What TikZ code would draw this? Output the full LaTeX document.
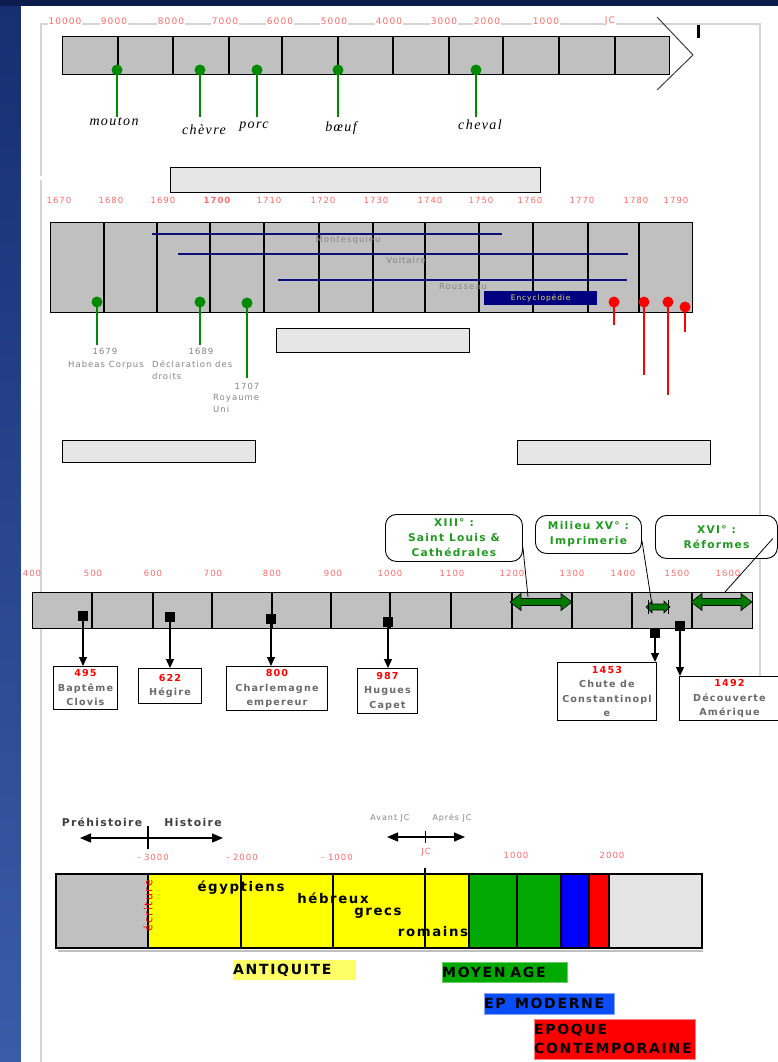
\documentclass[tikz,border=0pt]{standalone}
\usepackage{fontspec}
\setmainfont[LetterSpace=12]{DejaVu Sans}
\newfontfamily\animalfont[LetterSpace=10]{Liberation Serif}
\usetikzlibrary{arrows.meta}
\definecolor{bgtop}{HTML}{162E72}
\definecolor{bgbot}{HTML}{3A5CA8}
\definecolor{topnavy}{HTML}{0C1C4C}
\definecolor{cellgray}{HTML}{C0C0C0}
\definecolor{lightbox}{HTML}{E6E6E6}
\definecolor{dotgreen}{HTML}{008A00}
\definecolor{lblred}{HTML}{FF6A6A}
\definecolor{lblgray}{HTML}{858585}
\definecolor{evgray}{HTML}{6A6A6A}
\definecolor{linenavy}{HTML}{10107A}
\definecolor{framegray}{HTML}{D4D4D4}
\definecolor{encnavy}{HTML}{000080}
\definecolor{encyellow}{HTML}{E8E070}
\definecolor{arrowgreen}{HTML}{007A00}
\definecolor{calgreen}{HTML}{1E9A1E}
\definecolor{barYellow}{HTML}{FFFF00}
\definecolor{barGreen}{HTML}{00A800}
\definecolor{barBlue}{HTML}{0000FF}
\definecolor{barRed}{HTML}{FF0000}
\definecolor{barLight}{HTML}{E4E4E4}
\definecolor{perYellow}{HTML}{FFFF66}
\definecolor{perGreen}{HTML}{00AA00}
\definecolor{perBlue}{HTML}{0A4CF5}
\tikzset{
  frameline/.style={draw=framegray, line width=1.5pt},
  yr/.style={text=lblred, font=\fontsize{9}{10}\selectfont, inner sep=1pt},
  yrw/.style={yr, fill=white},
  yrs/.style={yr, font=\fontsize{8.5}{10}\selectfont},
  yrsb/.style={yr, font=\bfseries\fontsize{8.5}{10}\selectfont},
  barbox/.style={draw=black, line width=1.4pt, fill=cellgray, anchor=north west, inner sep=0pt},
  divline/.style={draw=black, line width=1.2pt},
  gdot/.style={circle, fill=dotgreen, minimum size=11pt, inner sep=0pt},
  rdot/.style={circle, fill=red, minimum size=11pt, inner sep=0pt},
  gline/.style={draw=dotgreen, line width=1.3pt},
  rline/.style={draw=red, line width=1.3pt},
  animal/.style={font=\animalfont\itshape\fontsize{14}{15}\selectfont, inner sep=0pt},
  lbox/.style={draw=black, line width=1.2pt, fill=lightbox, anchor=north west, inner sep=0pt},
  grayt/.style={text=lblgray, font=\fontsize{8.5}{12}\selectfont, inner sep=0pt},
  philo/.style={draw=linenavy, line width=1.3pt},
  evbox/.style={draw=black, line width=0.9pt, fill=white, anchor=north west, inner sep=0pt,
    align=center, text=evgray, font=\bfseries\fontsize{9.6}{14.5}\selectfont},
  sqnode/.style={fill=black, minimum size=10pt, inner sep=0pt},
  evarrow/.style={draw=black, line width=1.1pt, -{Triangle[width=8pt,length=9pt]}},
  callout/.style={draw=black, line width=0.9pt, rounded corners=11pt, fill=white, anchor=north west,
    inner sep=0pt, align=center, text=calgreen, font=\bfseries\fontsize{10.6}{15}\selectfont},
  pointer/.style={draw=black, line width=0.8pt},
  bigt/.style={text=black!75, font=\bfseries\fontsize{10.8}{12}\selectfont, inner sep=0pt},
  smallg/.style={text=lblgray, font=\fontsize{8}{9}\selectfont, inner sep=0pt},
  dblarrow/.style={draw=black, line width=1.2pt, {Triangle[width=9pt,length=11pt]}-{Triangle[width=9pt,length=11pt]}},
  people/.style={text=black, font=\bfseries\fontsize{13.3}{15}\selectfont, inner sep=0pt},
  period/.style={anchor=north west, inner sep=0pt, align=left, text=black,
    font=\bfseries\fontsize{14}{19}\selectfont},
}
\newcommand\greenDA[6]{%
  \filldraw[fill=arrowgreen, draw=black, line width=0.6pt]
    (#1,#3) -- (#1+#6,#3-#4) -- (#1+#6,#3-#5) -- (#2-#6,#3-#5) -- (#2-#6,#3-#4) -- (#2,#3)
    -- (#2-#6,#3+#4) -- (#2-#6,#3+#5) -- (#1+#6,#3+#5) -- (#1+#6,#3+#4) -- cycle;}
\begin{document}
\begin{tikzpicture}[x=1pt,y=-1pt]
\useasboundingbox (0,0) rectangle (778,1062);
% background
\shade[top color=bgtop, bottom color=bgbot] (0,0) rectangle (21,1062);
\fill[topnavy] (0,0) rectangle (778,6);
\fill[white] (21,6) rectangle (778,1062);
% frame
\draw[frameline] (41,1062) -- (41,180);
\draw[frameline] (41,176) -- (41,24) -- (760,24) -- (760,676);
% ---------- top timeline
\foreach \x/\t [count=\i] in {65/10000, 114/9000, 171/8000, 225/7000, 280/6000, 334/5000, 389/4000, 444/3000, 487/2000, 546/1000, 610/JC}
  \node[yrw] (top\i) at (\x,21) {\t};
\node[barbox, minimum width=607pt, minimum height=38pt] (bar1) at (62,36) {};
\foreach \x in {118,173,229,282,338,393,449,503,559,615}
  \draw[divline] (\x,36) -- (\x,74);
\draw[draw=black!75, line width=1pt] (657,17) -- (693,55) -- (657,90);
\draw[line width=3pt] (698,25) -- (698,38);
\foreach \n/\x/\lx/\ly/\t in {a/117/114/122/mouton, b/200/204/130/chèvre, c/257/254/127/porc, d/338/341/128/bœuf, e/476/480/125/cheval}{
  \node[gdot] (dot\n) at (\x,70) {};
  \coordinate (end\n) at (\x,117);
  \draw[gline] (dot\n.center) -- (end\n);
  \node[animal] (lab\n) at (\lx,\ly) {\t};
}
\node[lbox, minimum width=370pt, minimum height=25pt] (boxA) at (170,167) {};
% ---------- 18th century timeline
\foreach \x/\t [count=\i] in {59/1670,111/1680,163/1690,269/1710,323/1720,376/1730,430/1740,481/1750,530/1760,582/1770,636/1780,676/1790}
  \node[yrs] (yr\i) at (\x,200) {\t};
\node[yrsb] (yr1700) at (217,200) {1700};
\node[barbox, minimum width=642pt, minimum height=90pt] (bar2) at (50,222) {};
\foreach \x in {104,157,210,264,319,373,425,479,533,588,639}
  \draw[divline] (\x,222) -- (\x,312);
\draw[philo] (152,234) -- (502,234);
\draw[philo] (178,254) -- (628,254);
\draw[philo] (278,280) -- (627,280);
\node[grayt] (montesquieu) at (348,240) {Montesquieu};
\node[grayt] (voltaire) at (406,260) {Voltaire};
\node[grayt] (rousseau) at (463,286) {Rousseau};
\node[fill=encnavy, minimum width=113pt, minimum height=14pt, anchor=north west, inner sep=0pt,
  text=encyellow, font=\fontsize{7.5}{8}\selectfont] (ency) at (484,291) {Encyclopédie};
\foreach \n/\x/\y/\ey in {f/97/302/345, g/200/302/345, h/247/303/378}{
  \node[gdot] (dot\n) at (\x,\y) {};
  \coordinate (end\n) at (\x,\ey);
  \draw[gline] (dot\n.center) -- (end\n);
}
\node[grayt] (y1679) at (105,351) {1679};
\node[grayt] (habeas) at (106,365) {Habeas Corpus};
\node[grayt] (y1689) at (201,351) {1689};
\node[grayt, anchor=north west, align=left] (decl) at (152,360) {Déclaration des\\droits};
\node[grayt] (y1707) at (247,386) {1707};
\node[grayt, anchor=north west, align=left] (royaume) at (213,394) {Royaume\\Uni};
\foreach \n/\x/\y/\ey in {i/614/302/325, j/644/302/375, k/668/302/395, l/685/307/332}{
  \coordinate (end\n) at (\x,\ey);
  \node[rdot] (dot\n) at (\x,\y) {};
  \draw[rline] (dot\n.center) -- (end\n);
}
\node[lbox, minimum width=193pt, minimum height=24pt] (boxB) at (276,328) {};
\node[lbox, minimum width=193pt, minimum height=22pt] (boxC) at (62,440) {};
\node[lbox, minimum width=193pt, minimum height=24pt] (boxD) at (517,440) {};
% ---------- middle ages timeline
\foreach \x/\t [count=\i] in {32/400, 93/500, 153/600, 213/700, 272/800, 333/900, 390/1000, 452/1100, 512/1200, 572/1300, 623/1400, 677/1500, 728/1600}
  \node[yrs] (ma\i) at (\x,573) {\t};
\node[barbox, minimum width=720pt, minimum height=36pt] (bar3) at (32,592) {};
\foreach \x in {92,153,212,272,331,390,451,512,572,632,692}
  \draw[divline] (\x,592) -- (\x,628);
\greenDA{510}{572}{602}{8.5}{3.5}{11}
\greenDA{646}{670}{607}{6}{3}{6}
\draw[line width=1pt] (648,600) -- (648,614) (668,600) -- (668,614);
\greenDA{691}{752}{602}{8.5}{3.5}{11}
\coordinate (p13) at (528,597);
\coordinate (p15) at (652,605);
\coordinate (p16) at (725,592);
\node[callout, minimum width=137pt, minimum height=47pt] (c13) at (385,514) {XIII° :\\Saint Louis \&\\Cathédrales};
\node[callout, minimum width=106pt, minimum height=38pt] (c15) at (535,515) {Milieu XV° :\\Imprimerie};
\node[callout, minimum width=122pt, minimum height=43pt] (c16) at (655,515) {XVI° :\\Réformes};
\draw[pointer] ([yshift=-9.5pt]c13.east) -- (p13);
\draw[pointer] ([yshift=-6pt]c15.east) -- (p15);
\draw[pointer] ([xshift=-5pt,yshift=-1.5pt]c16.east) -- (p16);
\node[evbox, minimum width=64pt, minimum height=43pt] (ev1) at (53,666) {\textcolor{red}{495}\\Baptême\\Clovis};
\node[evbox, minimum width=63pt, minimum height=35pt] (ev2) at (138,668) {\textcolor{red}{622}\\Hégire};
\node[evbox, minimum width=101pt, minimum height=44pt] (ev3) at (226,666) {\textcolor{red}{800}\\Charlemagne\\empereur};
\node[evbox, minimum width=60pt, minimum height=45pt] (ev4) at (357,668) {\textcolor{red}{987}\\Hugues\\Capet};
\node[evbox, minimum width=99pt, minimum height=58pt] (ev5) at (557,662) {\textcolor{red}{1453}\\Chute de\\Constantinopl\\e};
\node[evbox, minimum width=100pt, minimum height=44pt] (ev6) at (679,676) {\textcolor{red}{1492}\\Découverte\\Amérique};
\foreach \n/\x/\y in {1/83/616, 2/170/617, 3/271/619, 4/388/622, 5/655/633, 6/680/626}{
  \node[sqnode] (sq\n) at (\x,\y) {};
  \draw[evarrow] (sq\n.center) -- (sq\n |- ev\n.north);
}
% ---------- bottom overview
\node[bigt] (preh) at (102,822) {Préhistoire};
\node[bigt] (hist) at (193,822) {Histoire};
\coordinate (pa) at (80,838);
\coordinate (pb) at (223,838);
\draw[dblarrow] (pa) -- (pb);
\draw[line width=1.2pt] (148,826) -- (148,849);
\node[smallg] (avant) at (390,818) {Avant JC};
\node[smallg] (apres) at (452,818) {Après JC};
\coordinate (qa) at (387,837);
\coordinate (qb) at (465,837);
\draw[dblarrow] (qa) -- (qb);
\draw[line width=1pt] (425,831) -- (425,843);
\node[yrs] (m3000) at (153,857) {- 3000};
\node[yrs] (m2000) at (242,857) {- 2000};
\node[yrs] (m1000) at (337,857) {- 1000};
\node[yrs] (jc) at (426,852) {JC};
\node[yrs] (p1000) at (516,855) {1000};
\node[yrs] (p2000) at (612,855) {2000};
\fill[cellgray] (56,874) rectangle (148,948);
\fill[barYellow] (148,874) rectangle (469,948);
\fill[barGreen] (469,874) rectangle (561,948);
\fill[barBlue] (561,874) rectangle (589,948);
\fill[barRed] (589,874) rectangle (609,948);
\fill[barLight] (609,874) rectangle (702,948);
\foreach \x in {148,241,333,469,517,561,589,609}
  \draw[divline] (\x,874) -- (\x,948);
\draw[divline] (425,868) -- (425,948);
\draw[draw=black, line width=1.4pt] (56,874) rectangle (702,948);
\draw[draw=black!25, line width=1.2pt] (58,951) -- (703,951);
\node[text=red, rotate=90, font=\fontsize{11}{12}\selectfont, inner sep=0pt] (ecriture) at (148,906) {écriture};
\node[people] (egy) at (241,888) {égyptiens};
\node[people] (heb) at (333,898) {hébreux};
\node[people] (gre) at (378,913) {grecs};
\node[people] (rom) at (433,932) {romains};
\node[period, fill=perYellow, minimum width=123pt, minimum height=20pt, text width=123pt] (antiq) at (233,960) {ANTIQUITE};
\node[period, fill=perGreen, draw=perGreen!60!white, minimum width=125pt, minimum height=20pt, text width=125pt] (moyen) at (442,962) {MOYEN AGE};
\node[period, fill=perBlue, draw=perBlue!50!white, minimum width=130pt, minimum height=21pt, text width=130pt] (epmod) at (484,993) {EP\ \ MODERNE};
\node[period, fill=barRed, draw=barRed!50!white, minimum width=161pt, minimum height=40pt, text width=161pt] (epcon) at (534,1019) {EPOQUE\\CONTEMPORAINE};
\end{tikzpicture}
\end{document}
